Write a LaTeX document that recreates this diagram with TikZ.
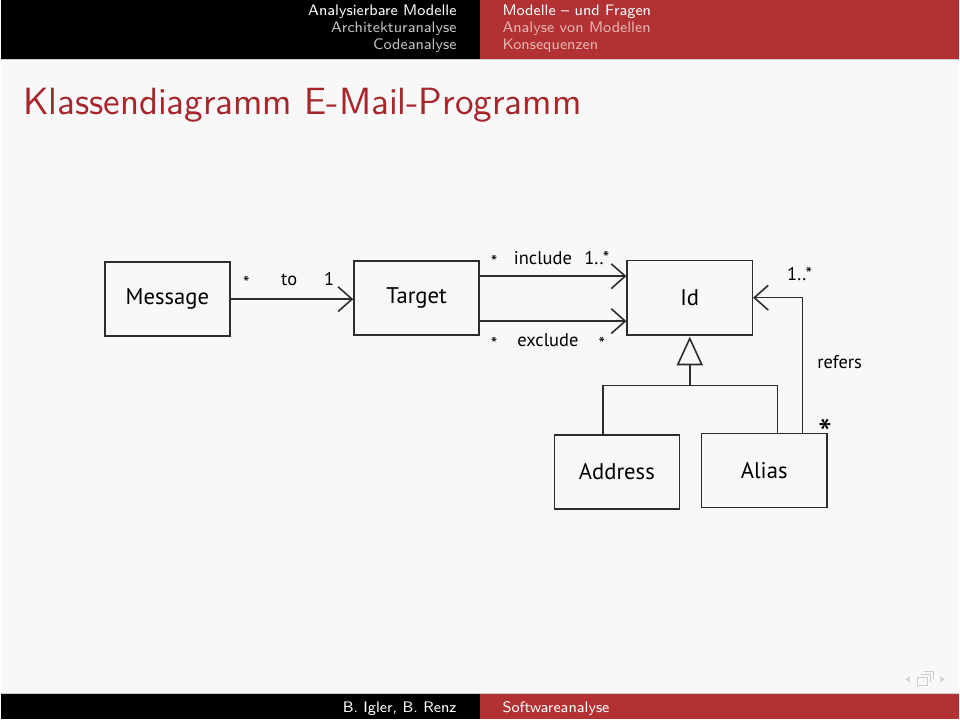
\documentclass[tikz,border=0pt]{standalone}
\usepackage{fontspec}
\newfontfamily\umlfont{PT Sans}
\usepackage{tikz}
\usetikzlibrary{arrows.meta,positioning,calc}
\definecolor{slidebg}{RGB}{248,248,248}
\definecolor{barred}{RGB}{178,50,52}
\definecolor{titlered}{RGB}{166,38,44}
\definecolor{ink}{RGB}{45,45,45}
\definecolor{fadegray}{RGB}{195,195,195}
\definecolor{fadepink}{RGB}{232,178,178}
\definecolor{navgray}{RGB}{205,205,205}

\begin{document}
\begin{tikzpicture}[
  x=0.13333mm, y=-0.13333mm,
  classbox/.style={draw=ink, line width=0.6pt, minimum width=16.7mm, minimum height=9.9mm,
    inner sep=0pt, text=black, font=\umlfont\fontsize{8.6}{10}\selectfont},
  assoc/.style={-{Straight Barb[length=5.3pt,width=9.4pt]}, line width=0.6pt, ink},
  genline/.style={line width=0.6pt, ink},
  mult/.style={anchor=base, inner sep=0pt, text=black, font=\umlfont\fontsize{7}{8}\selectfont},
  headtext/.style={inner sep=0pt, font=\sffamily\fontsize{5.8}{7}\selectfont}
]

% Slide background, head and foot lines
\fill[slidebg] (0,0) rectangle (960,720);
\fill[black] (0,0) rectangle (480,59);
\fill[barred] (480,0) rectangle (960,59);
\draw[navgray, line width=0.4pt] (0,59.5) -- (960,59.5);
\fill[black] (0,695) rectangle (480,720);
\fill[barred] (480,695) rectangle (960,720);
\draw[navgray, line width=0.4pt] (0,694.5) -- (960,694.5);

% Section navigation
\node[headtext, anchor=base east, white] (secA) at (457,15.5) {Analysierbare Modelle};
\node[headtext, anchor=base east, fadegray] (secB) at (457,32.5) {Architekturanalyse};
\node[headtext, anchor=base east, fadegray] (secC) at (457,49.5) {Codeanalyse};
\node[headtext, anchor=base west, white] (subA) at (502,15.5) {Modelle -- und Fragen};
\node[headtext, anchor=base west, fadepink] (subB) at (502,32.5) {Analyse von Modellen};
\node[headtext, anchor=base west, fadepink] (subC) at (502,49.5) {Konsequenzen};

% Frame title
\node[anchor=base west, inner sep=0pt, titlered, font=\sffamily\fontsize{14.4}{17}\selectfont]
  (title) at (22,115) {Klassendiagramm E-Mail-Programm};

% Footline
\node[headtext, anchor=base east, white] (authors) at (457,713) {B. Igler, B. Renz};
\node[headtext, anchor=base west, white] (course) at (502,713) {Softwareanalyse};

% Navigation symbols
\fill[navgray] (906,680) -- (910,677) -- (910,683) -- cycle;
\draw[navgray, line width=0.5pt] (918,678) rectangle (928,686);
\draw[navgray, line width=0.5pt] (921,675) -- (931,675) -- (931,683);
\draw[navgray, line width=0.5pt] (924,672) -- (934,672) -- (934,680);
\fill[navgray] (945,680) -- (941,677) -- (941,683) -- cycle;

% Classes
\node[classbox] (msg) at (167,299.5) {Message};
\node[classbox] (tgt) at (416.5,298.5) {Target};
\node[classbox] (id) at (690,298) {Id};
\node[classbox] (addr) at (617,472.5) {Address};
\node[classbox] (alias) at (764.5,471) {Alias};

% Associations
\draw[assoc] (msg.east) -- (msg.east -| tgt.west);
\coordinate (incl) at ($(tgt.east)+(0,-22)$);
\coordinate (excl) at ($(tgt.east)+(0,23)$);
\draw[assoc] (incl) -- (incl -| id.west);
\draw[assoc] (excl) -- (excl -| id.west);
\draw[assoc] ($(alias.north)+(38.5,0)$) |- (id.east);

% Generalization
\coordinate (gen) at ($(id.south)+(0,29)$);
\coordinate (fork) at ($(gen)+(0,21)$);
\draw[genline] ($(id.south)+(0,3)$) -- ++(-12,26) -- ++(24,0) -- cycle;
\draw[genline] (gen) -- (fork);
\draw[genline] ($(addr.north)+(-14,0)$) |- (fork) -| ($(alias.north)+(13.5,0)$);

% Role names and multiplicities
\node[mult] (toA) at (246,290) {*};
\node[mult] (toL) at (289,286) {to};
\node[mult] (toB) at (329,286) {1};
\node[mult] (inA) at (494,269) {*};
\node[mult] (inL) at (543,265) {include};
\node[mult] (inB) at (597,265) {1..*};
\node[mult] (exA) at (494,351) {*};
\node[mult] (exL) at (548,347) {exclude};
\node[mult] (exB) at (602,351) {*};
\node[mult] (refB) at (800,281) {1..*};
\node[mult] (refL) at (840,369) {refers};
\node[mult, font=\umlfont\fontsize{15}{17}\selectfont] (refA) at (826,448) {*};

\end{tikzpicture}
\end{document}
